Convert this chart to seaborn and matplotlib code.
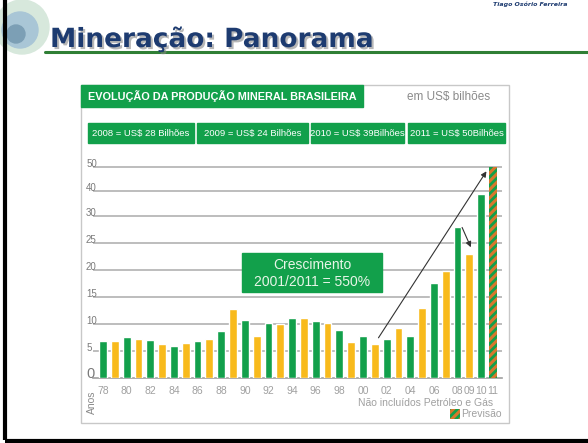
import numpy as np
import seaborn as sns
import matplotlib.pyplot as plt
import matplotlib.patheffects as pe
from matplotlib.patches import Rectangle, Circle

# data (US$ bilhoes)
years = list(range(1978, 2012))
values = [6.8, 6.8, 7.5, 7.3, 7.1, 6.2, 6.0, 6.5, 6.8, 7.3,
          8.7, 12.8, 10.7, 7.8, 10.2, 9.9, 11.0, 11.0, 10.5, 10.2,
          8.8, 6.7, 7.7, 6.2, 7.3, 9.3, 7.8, 13.0, 17.6, 19.7,
          28.0, 23.0, 39.0, 50.0]
tick_years = [1978, 1980, 1982, 1984, 1986, 1988, 1990, 1992, 1994, 1996,
              1998, 2000, 2002, 2004, 2006, 2008, 2009, 2010, 2011]
y_ticks = [0, 5, 10, 15, 20, 25, 30, 40, 50]
box_labels = ["2008 = US$ 28 Bilhões", "2009 = US$ 24 Bilhões",
              "2010 = US$ 39Bilhões", "2011 = US$ 50Bilhões"]

GREEN = "#12A04B"
YELLOW = "#F8BA1C"
RUST = "#D8772C"
W, H = 588, 443
NARROW = ["Liberation Sans Narrow", "Liberation Sans", "DejaVu Sans"]

sns.set_style("white")
plt.rcParams["font.family"] = ["DejaVu Sans"]
plt.rcParams["hatch.linewidth"] = 2.0
plt.rcParams["hatch.color"] = GREEN


def fig_rect(x0, y0, x1, y1):
    return [x0 / W, 1 - y1 / H, (x1 - x0) / W, (y1 - y0) / H]


def fwd(y):
    y = np.asarray(y, dtype=float)
    return np.where(y <= 30, y, 30 + (y - 30) * 0.45)


def inv(s):
    s = np.asarray(s, dtype=float)
    return np.where(s <= 30, s, 30 + (s - 30) / 0.45)


fig = plt.figure(figsize=(W / 100, H / 100), dpi=100)

# chart axes
ax = fig.add_axes(fig_rect(93, 160, 502, 378))
labels = [str(y) for y in years]
colors = [GREEN if y % 2 == 0 else YELLOW for y in years]
sns.barplot(x=labels, y=values, hue=labels, palette=colors, legend=False,
            saturation=1, width=0.66, ax=ax, zorder=3)
ax.set_yscale("function", functions=(fwd, inv))
ax.set_ylim(0, float(inv(40.3)))
ax.set_xlim(-0.846, 33.76)

# forecast bar for 2011
last = max(ax.patches, key=lambda p: p.get_x())
last.set_facecolor(RUST)
last.set_edgecolor(GREEN)
last.set_hatch("////")
last.set_linewidth(0)

for t in y_ticks[1:]:
    ax.axhline(t, color="#BDBDBD", lw=1.4, zorder=1)
ax.set_yticks([])
for t in y_ticks:
    ax.text(-0.017, t, str(t), transform=ax.get_yaxis_transform(),
            ha="left", va="baseline", color="#7a7a7a",
            fontsize=10.5 if t == 0 else 7, family=NARROW)

ax.set_xticks([years.index(y) for y in tick_years])
ax.set_xticklabels([str(y)[2:] for y in tick_years], color="#a0a0a0",
                   fontsize=7.5, family=NARROW)
ax.set_xticks(np.arange(-0.5, 34, 1), minor=True)
ax.tick_params(axis="x", which="major", length=0, pad=6)
ax.tick_params(axis="x", which="minor", length=3.5, color="#a0a0a0", width=1)
for s in ["top", "right", "left"]:
    ax.spines[s].set_visible(False)
ax.spines["bottom"].set_color("#a0a0a0")
ax.spines["bottom"].set_linewidth(1.2)
ax.set_xlabel("")
ax.set_ylabel("")
ax.patch.set_alpha(0)

arrow = dict(arrowstyle="-|>", color="#333333", lw=0.8, mutation_scale=8)
ax.annotate("", xy=(32.57, 49.2), xytext=(23.18, 7.0), arrowprops=arrow, zorder=4)
ax.annotate("", xy=(31.22, 23.7), xytext=(30.29, 28.3), arrowprops=arrow, zorder=4)

# slide overlay in pixel coordinates
ov = fig.add_axes([0, 0, 1, 1], zorder=5)
ov.set_xlim(0, W)
ov.set_ylim(H, 0)
ov.axis("off")

# globe icon
ov.add_patch(Circle((22, 27), 27, color="#d7e8dc", zorder=1))
ov.add_patch(Circle((20, 30), 18, color="#a9c6d6", zorder=1))
ov.add_patch(Circle((16, 34), 9, color="#7c9fb5", zorder=1))

# slide borders
ov.plot([4.5, 4.5], [0, 440], color="black", lw=3, solid_capstyle="butt")
ov.plot([4.5, W], [440.5, 440.5], color="black", lw=3, solid_capstyle="butt")
ov.plot([45, W], [52, 52], color="#2f7f35", lw=2.2)

ov.text(50, 47, "Mineração: Panorama", fontsize=19, fontweight="bold",
        color="#1d3b70", va="baseline", ha="left",
        path_effects=[pe.SimplePatchShadow(offset=(1.5, -1.5), shadow_rgbFace="#888888", alpha=0.6),
                      pe.Normal()])
ov.text(493, 4, "Tiago Osório Ferreira", fontsize=4.5, fontstyle="italic",
        fontweight="bold", color="#1d3b70", va="center", ha="left")

# chart frame and headers
ov.add_patch(Rectangle((81, 85), 428, 338, fill=False, ec="#c8c8c8", lw=1))
ov.add_patch(Rectangle((81, 85), 282, 22, color=GREEN))
ov.text(88, 96.5, "EVOLUÇÃO DA PRODUÇÃO MINERAL BRASILEIRA", color="white",
        fontsize=7.8, fontweight="bold", va="center", ha="left", family=NARROW)
ov.text(449, 97, "em US$ bilhões", color="#8a8a8a", fontsize=8.5,
        va="center", ha="center", family=NARROW)

box_x = [(88, 194), (197, 308), (311, 404), (408, 505)]
for (x0, x1), lab in zip(box_x, box_labels):
    ov.add_patch(Rectangle((x0, 123), x1 - x0, 20, color=GREEN))
    ov.text((x0 + x1) / 2, 133.5, lab, color="white", fontsize=6.8,
            va="center", ha="center", family=NARROW)

ov.add_patch(Rectangle((242, 253), 140, 39, color=GREEN))
ov.text(312, 265, "Crescimento", color="#e8f5e8", fontsize=10,
        ha="center", va="center", family=NARROW)
ov.text(312, 282, "2001/2011 = 550%", color="#e8f5e8", fontsize=10,
        ha="center", va="center", family=NARROW)

ov.text(92, 402, "Anos", rotation=90, color="#8a8a8a", fontsize=7.5,
        ha="center", va="center", family=NARROW)
ov.text(493, 403, "Não incluídos Petróleo e Gás", color="#a0a0a0", fontsize=7.5,
        ha="right", va="center", family=NARROW)
ov.add_patch(Rectangle((450, 409), 10, 10, facecolor=RUST, edgecolor=GREEN,
                       hatch="////", lw=0))
ov.text(461, 414, "Previsão", color="#a0a0a0", fontsize=7.5,
        ha="left", va="center", family=NARROW)

fig.savefig("out.png", dpi=100)
